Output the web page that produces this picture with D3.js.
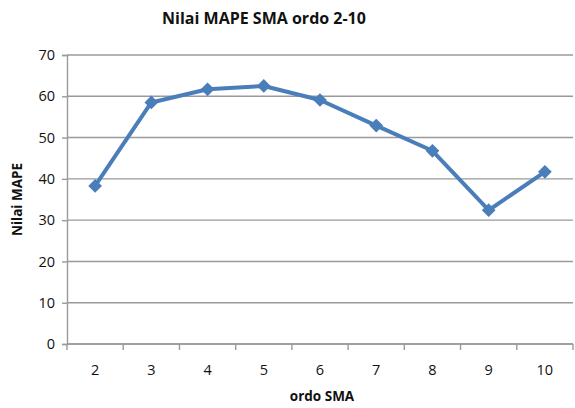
<!DOCTYPE html>
<html>
<head>
<meta charset="utf-8">
<script src="https://cdn.jsdelivr.net/npm/d3@7"></script>
<style>
  body { margin: 0; background: #fff; }
  text { font-family: "Open Sans", "Noto Sans", sans-serif; }
</style>
</head>
<body>
<div id="chart"></div>
<script>
// Chart data
var ordo = ['2', '3', '4', '5', '6', '7', '8', '9', '10']
var mape = [38.3, 58.5, 61.7, 62.5, 59.1, 52.9, 46.8, 32.4, 41.7]
var yTicks = [0, 10, 20, 30, 40, 50, 60, 70]

var svgWidth = 575
var svgHeight = 408
var margin = { top: 55, right: 2, bottom: 64, left: 67 }
var width = svgWidth - margin.left - margin.right
var height = svgHeight - margin.top - margin.bottom

var svg = d3.select('#chart')
      .append('svg')
      .attr('width', svgWidth)
      .attr('height', svgHeight)

var chartGroup = svg.append('g')
      .attr('transform', `translate(${margin.left}, ${margin.top})`)

var xScale = d3.scaleBand()
      .domain(ordo)
      .range([0, width])

var yScale = d3.scaleLinear()
      .domain([0, 70])
      .range([height, 0])

// Gridlines
chartGroup.selectAll('.grid')
      .data(yTicks)
      .enter()
      .append('line')
      .attr('x1', 0)
      .attr('x2', width)
      .attr('y1', d => yScale(d))
      .attr('y2', d => yScale(d))
      .attr('stroke', '#9a9a9a')
      .attr('stroke-width', 1.4)

// Y axis
var leftAxis = d3.axisLeft(yScale).tickValues(yTicks).tickSize(5).tickPadding(7)
var yAxis = chartGroup.append('g').call(leftAxis)
yAxis.select('.domain').attr('stroke', '#9a9a9a').attr('stroke-width', 1.4)
yAxis.selectAll('.tick line').attr('stroke', '#9a9a9a').attr('stroke-width', 1.4)
yAxis.selectAll('.tick text')
      .style('font-size', '14.5px')
      .attr('fill', '#111')

// X axis: ticks at band boundaries
var xAxis = chartGroup.append('g').attr('transform', `translate(0, ${height})`)
xAxis.append('line')
      .attr('x1', 0).attr('x2', width)
      .attr('stroke', '#9a9a9a').attr('stroke-width', 1.4)
var bounds = ordo.map(d => xScale(d)).concat([width])
xAxis.selectAll('.xtick')
      .data(bounds)
      .enter()
      .append('line')
      .attr('x1', d => d).attr('x2', d => d)
      .attr('y1', 0).attr('y2', 6)
      .attr('stroke', '#9a9a9a').attr('stroke-width', 1.4)
xAxis.selectAll('.xlabel')
      .data(ordo)
      .enter()
      .append('text')
      .attr('x', d => xScale(d) + xScale.bandwidth() / 2)
      .attr('y', 31)
      .attr('text-anchor', 'middle')
      .style('font-size', '14.5px')
      .attr('fill', '#111')
      .text(d => d)

// Line
var line = d3.line()
      .x((d, i) => xScale(ordo[i]) + xScale.bandwidth() / 2)
      .y(d => yScale(d))

chartGroup.append('path')
      .datum(mape)
      .attr('d', line)
      .attr('fill', 'none')
      .attr('stroke', '#4a7ebb')
      .attr('stroke-width', 4)
      .attr('stroke-linejoin', 'round')

// Diamond markers
chartGroup.selectAll('.marker')
      .data(mape)
      .enter()
      .append('path')
      .attr('d', d3.symbol().type(d3.symbolDiamond2).size(120))
      .attr('transform', (d, i) => `translate(${xScale(ordo[i]) + xScale.bandwidth() / 2}, ${yScale(d)})`)
      .attr('fill', '#4a7ebb')

// Titles
svg.append('text')
      .attr('x', 264)
      .attr('y', 24)
      .attr('text-anchor', 'middle')
      .style('font-size', '16px')
      .style('font-weight', 'bold')
      .attr('fill', '#111')
      .text('Nilai MAPE SMA ordo 2-10')

svg.append('text')
      .attr('transform', `translate(22, ${margin.top + height / 2}) rotate(-90)`)
      .attr('text-anchor', 'middle')
      .style('font-size', '13.5px')
      .style('font-weight', 'bold')
      .attr('fill', '#111')
      .text('Nilai MAPE')

svg.append('text')
      .attr('x', 322)
      .attr('y', 401)
      .attr('text-anchor', 'middle')
      .style('font-size', '13.5px')
      .style('font-weight', 'bold')
      .attr('fill', '#111')
      .text('ordo SMA')
</script>
</body>
</html>
